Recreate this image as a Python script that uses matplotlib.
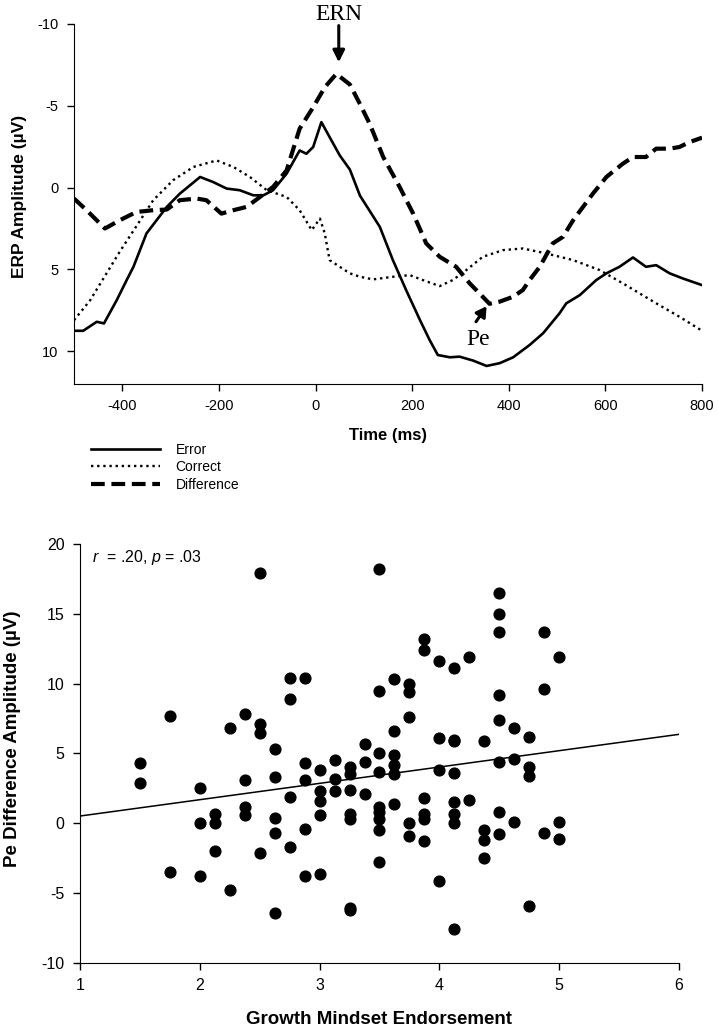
import numpy as np
import matplotlib

matplotlib.use("Agg")
import matplotlib.pyplot as plt

plt.rcParams["font.family"] = ["Liberation Sans", "DejaVu Sans"]
plt.rcParams["mathtext.fontset"] = "custom"
plt.rcParams["mathtext.it"] = "Liberation Sans:italic"
plt.rcParams["mathtext.rm"] = "Liberation Sans"
plt.rcParams["axes.unicode_minus"] = False

# ERP waveforms (time in ms, amplitude in uV)
error_t = [-500, -481, -453, -438, -412, -391, -377, -350, -308, -281, -239, -212, -184,
           -157, -129, -108, -88, -60, -33, -19, -5, 12, 29, 50, 71, 92, 105, 133, 160,
           188, 216, 236, 253, 278, 298, 326, 354, 381, 409, 443, 471, 505, 519, 547,
           581, 602, 629, 657, 684, 705, 733, 760, 800]
error_v = [8.75, 8.75, 8.2, 8.3, 6.9, 5.65, 4.84, 2.8, 1.18, 0.37, -0.65, -0.34, 0.06,
           0.16, 0.47, 0.47, 0.16, -0.85, -2.27, -2.07, -2.48, -4.0, -3.09, -1.97, -1.1,
           0.5, 1.1, 2.4, 4.43, 6.3, 8.09, 9.31, 10.23, 10.37, 10.33, 10.57, 10.9, 10.73,
           10.37, 9.62, 8.9, 7.68, 7.07, 6.57, 5.65, 5.24, 4.84, 4.27, 4.84, 4.74, 5.24,
           5.55, 5.96]

correct_t = [-500, -467, -436, -405, -363, -336, -295, -253, -205, -170, -136, -101, -60,
             -33, -8, 9, 19, 29, 50, 71, 92, 119, 160, 195, 222, 257, 284, 312, 346, 388,
             429, 477, 533, 588, 636, 705, 753, 800]
correct_v = [8.1, 6.9, 5.4, 3.9, 2.0, 0.77, -0.45, -1.26, -1.66, -1.26, -0.65, 0.16, 0.57,
             1.38, 2.6, 1.89, 2.8, 4.43, 4.84, 5.24, 5.45, 5.61, 5.45, 5.35, 5.65, 6.02,
             5.65, 5.04, 4.23, 3.82, 3.72, 4.02, 4.43, 5.04, 5.85, 7.07, 7.89, 8.75]

diff_t = [-500, -474, -436, -405, -371, -336, -308, -281, -246, -226, -195, -170, -143,
          -115, -88, -60, -33, -5, 19, 43, 71, 92, 112, 140, 174, 202, 229, 257, 291, 319,
          346, 360, 381, 409, 429, 443, 464, 491, 512, 533, 574, 602, 636, 657, 684, 705,
          733, 753, 774, 800]
diff_v = [0.67, 1.38, 2.5, 1.99, 1.49, 1.38, 1.34, 0.77, 0.67, 0.77, 1.59, 1.38, 1.18,
          0.57, -0.04, -1.05, -3.6, -4.91, -6.13, -6.95, -6.3, -5.1, -3.9, -1.87, -0.04,
          1.59, 3.41, 4.23, 4.84, 5.85, 6.67, 7.1, 6.97, 6.67, 6.26, 5.65, 4.84, 3.41,
          3.01, 2.0, 0.37, -0.65, -1.46, -1.87, -1.87, -2.38, -2.38, -2.48, -2.78, -3.05]

# scatter: growth mindset vs Pe difference amplitude
mindset = ([1.5] * 2 + [1.75] * 2 + [2.0] * 3 + [2.125] * 3 + [2.25] * 2 + [2.375] * 4
           + [2.5] * 4 + [2.625] * 5 + [2.75] * 4 + [2.875] * 5 + [3.0] * 5 + [3.125] * 3
           + [3.25] * 7 + [3.375] * 3 + [3.5] * 9 + [3.625] * 6 + [3.75] * 5 + [3.875] * 6
           + [4.0] * 4 + [4.125] * 8 + [4.25] * 2 + [4.375] * 4 + [4.5] * 8 + [4.625] * 3
           + [4.75] * 4 + [4.875] * 3 + [5.0] * 3)
pe_amp = [4.3, 2.9,
          7.7, -3.5,
          2.5, 0.0, -3.8,
          0.7, 0.0, -2.0,
          6.8, -4.8,
          7.8, 3.1, 1.2, 0.6,
          17.9, 7.1, 6.5, -2.1,
          5.3, 3.3, 0.4, -0.7, -6.4,
          10.4, 8.9, 1.9, -1.7,
          10.4, 4.3, 3.1, -0.4, -3.8,
          3.8, 2.3, 1.6, 0.6, -3.6,
          4.5, 3.2, 2.3,
          4.0, 3.5, 2.4, 0.7, 0.3, -6.1, -6.2,
          5.7, 4.4, 2.1,
          18.2, 9.5, 5.0, 3.7, 1.2, 0.8, 0.3, -0.5, -2.8,
          10.3, 6.6, 4.9, 4.2, 3.5, 1.4,
          10.0, 9.4, 7.6, 0.0, -0.9,
          13.2, 12.4, 1.8, 0.7, 0.3, -1.3,
          11.6, 6.1, 3.8, -4.1,
          11.1, 6.0, 5.9, 3.6, 1.5, 0.7, 0.0, -7.6,
          11.9, 1.7,
          5.9, -0.5, -1.2, -2.5,
          16.5, 15.0, 13.7, 9.2, 7.4, 4.4, 0.8, -0.8,
          6.8, 4.6, 0.1,
          6.2, 4.0, 3.4, -5.9,
          13.7, 9.6, -0.7,
          11.9, 0.1, -1.1]
fit_slope = 1.17
fit_intercept = -0.65

fig = plt.figure(figsize=(7.18, 10.33), dpi=100)

# ---- top: ERP waveforms
ax1 = fig.add_axes([0.1031, 0.6283, 0.8747, 0.3485])
ax1.plot(error_t, error_v, color="black", lw=1.9, label="Error")
ax1.plot(correct_t, correct_v, color="black", lw=1.7, linestyle=(0, (1, 1.6)),
         label="Correct")
ax1.plot(diff_t, diff_v, color="black", lw=3.0, linestyle=(0, (3.3, 1.6)),
         label="Difference")
ax1.set_xlim(-500, 800)
ax1.set_ylim(12, -10)
ax1.set_xticks([-400, -200, 0, 200, 400, 600, 800])
ax1.set_yticks([-10, -5, 0, 5, 10])
ax1.spines["top"].set_visible(False)
ax1.spines["right"].set_visible(False)
ax1.tick_params(labelsize=10.5, length=5, width=1, direction="out", pad=6)
ax1.set_xlabel("Time (ms)", fontsize=12, fontweight="bold")
ax1.set_ylabel("ERP Amplitude (µV)", fontsize=12.5, fontweight="bold")
ax1.xaxis.set_label_coords(0.5, -0.122)
ax1.yaxis.set_label_coords(-0.075, 0.52)

ax1.annotate("", xy=(48, -7.66), xytext=(48, -9.9),
             arrowprops=dict(arrowstyle="-|>,head_width=0.35,head_length=0.7",
                             color="black", lw=2.2, shrinkA=0, shrinkB=0),
             annotation_clip=False)
ax1.text(48, -10.6, "ERN", family="Liberation Serif", fontsize=17,
         ha="center", va="center", clip_on=False)
ax1.annotate("", xy=(354, 7.25), xytext=(332, 8.2),
             arrowprops=dict(arrowstyle="-|>,head_width=0.35,head_length=0.6",
                             color="black", lw=2.2, shrinkA=0, shrinkB=0))
ax1.text(336, 9.3, "Pe", family="Liberation Serif", fontsize=17,
         ha="center", va="center")

fig.legend(*ax1.get_legend_handles_labels(), loc="upper left",
           bbox_to_anchor=(0.1267, 0.5715), frameon=False, fontsize=10,
           handlelength=5.0, handletextpad=1.1, labelspacing=0.25,
           borderpad=0, borderaxespad=0)

# ---- bottom: scatter
ax2 = fig.add_axes([0.1114, 0.0678, 0.8343, 0.4056])
ax2.scatter(mindset, pe_amp, s=60, color="black", zorder=3)
fit_x = np.array([1.0, 6.0])
ax2.plot(fit_x, np.polyval([fit_slope, fit_intercept], fit_x), color="black", lw=1.1)
ax2.set_xlim(1, 6)
ax2.set_ylim(-10, 20)
ax2.set_xticks([1, 2, 3, 4, 5, 6])
ax2.set_yticks([-10, -5, 0, 5, 10, 15, 20])
ax2.spines["top"].set_visible(False)
ax2.spines["right"].set_visible(False)
ax2.tick_params(labelsize=11.5, length=5, width=1, direction="out", pad=6)
ax2.set_xlabel("Growth Mindset Endorsement", fontsize=13.5, fontweight="bold")
ax2.set_ylabel("Pe Difference Amplitude (µV)", fontsize=13.5, fontweight="bold")
ax2.xaxis.set_label_coords(0.5, -0.115)
ax2.yaxis.set_label_coords(-0.098, 0.535)
ax2.text(1.1, 19.0, r"$r$  = .20, $p$ = .03", fontsize=11.5, ha="left", va="center")

fig.savefig("out.png", dpi=100)
plt.close(fig)
